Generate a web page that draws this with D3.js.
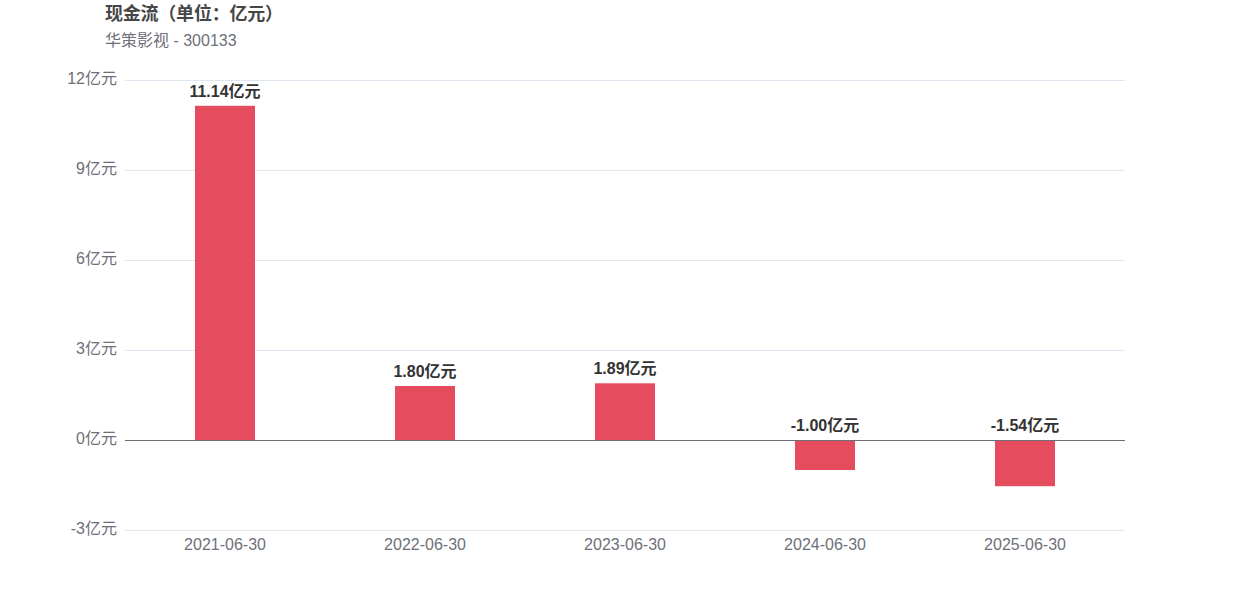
<!DOCTYPE html>
<html><head><meta charset="utf-8">
<script src="https://cdn.jsdelivr.net/npm/d3@7"></script>
<style>body{margin:0;background:#fff;font-family:"Liberation Sans","Noto Sans CJK SC",sans-serif;}</style>
</head><body><svg id="c" width="1250" height="600"></svg>
<script>
const categories = ["2021-06-30","2022-06-30","2023-06-30","2024-06-30","2025-06-30"];
const values = [11.14, 1.80, 1.89, -1.00, -1.54];
const yTicks = [-3, 0, 3, 6, 9, 12];
const titleText = "现金流（单位：亿元）";
const subtitleText = "华策影视 - 300133";
const unit = "亿元";

const svg = d3.select("#c");
const font = '"Liberation Sans","Noto Sans CJK SC",sans-serif';
const x = d3.scaleBand().domain(categories).range([125,1125]);
const y = d3.scaleLinear().domain([-3,12]).range([530,80]);

svg.append("text").attr("x",105).attr("y",20).attr("font-size",18).attr("font-weight","bold")
  .attr("fill","#464646").attr("font-family",font)
  .attr("textLength",178).attr("lengthAdjust","spacing").text(titleText);
svg.append("text").attr("x",105).attr("y",46).attr("font-size",16)
  .attr("fill","#6e7079").attr("font-family",font).text(subtitleText);

const gy = svg.append("g");
gy.selectAll("line").data(yTicks).join("line")
  .attr("x1",125).attr("x2",1125).attr("y1",d=>y(d)+0.5).attr("y2",d=>y(d)+0.5)
  .attr("stroke","#e0e6f1");
gy.selectAll("text").data(yTicks).join("text")
  .attr("x",117).attr("y",d=>y(d)-2).attr("dy","0.35em").attr("text-anchor","end")
  .attr("font-size",16).attr("fill","#6e7079").attr("font-family",font).text(d=>d+unit);

svg.selectAll("rect.bar").data(values).join("rect").attr("class","bar")
  .attr("x",(d,i)=>x(categories[i])+x.bandwidth()/2-30).attr("width",60)
  .attr("y",d=>y(Math.max(0,d))).attr("height",d=>Math.abs(y(d)-y(0)))
  .attr("fill","#e54c5e");

svg.append("line").attr("x1",125).attr("x2",1125).attr("y1",y(0)+0.5).attr("y2",y(0)+0.5)
  .attr("stroke","#6e7079");

svg.selectAll("text.lbl").data(values).join("text").attr("class","lbl")
  .attr("x",(d,i)=>x(categories[i])+x.bandwidth()/2)
  .attr("y",d=>(d>=0?y(d):y(0))-9).attr("text-anchor","middle")
  .attr("font-size",16).attr("font-weight","bold").attr("fill","#333").attr("font-family",font)
  .text(d=>d.toFixed(2)+unit);

svg.selectAll("text.xl").data(categories).join("text").attr("class","xl")
  .attr("x",d=>x(d)+x.bandwidth()/2).attr("y",550).attr("text-anchor","middle")
  .attr("font-size",16).attr("fill","#6e7079").attr("font-family",font).text(d=>d);
</script></body></html>
